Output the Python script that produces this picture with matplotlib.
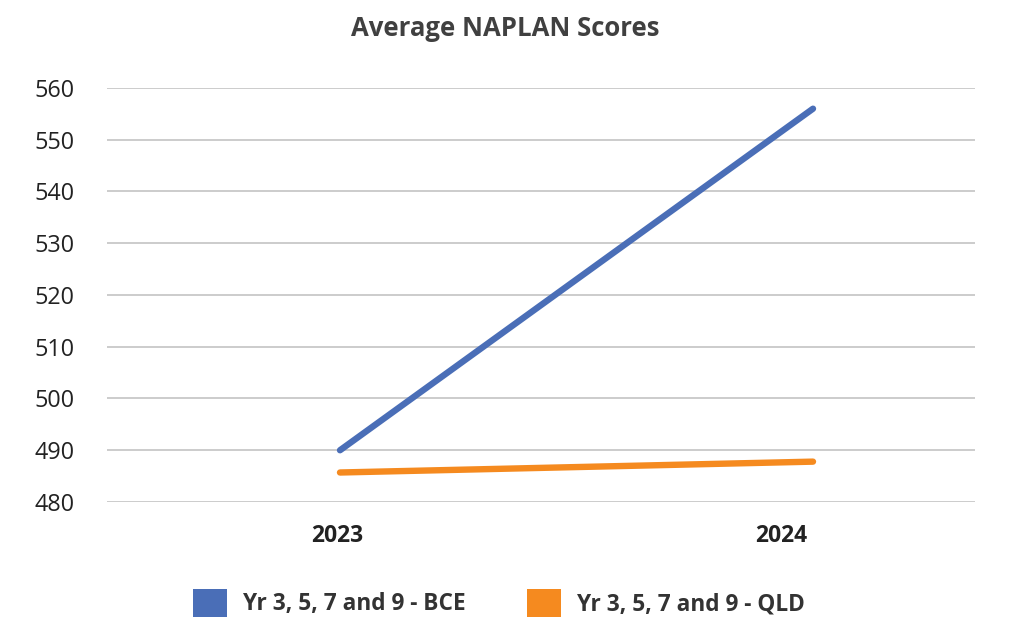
import matplotlib
matplotlib.use("Agg")
import matplotlib.pyplot as plt
from matplotlib.patches import Patch
import matplotlib.transforms as mtransforms

plt.rcParams['font.family'] = ['Open Sans', 'DejaVu Sans']

years = ["2023", "2024"]
bce = [490, 556]
qld = [485.7, 487.8]
series_names = ["Yr 3, 5, 7 and 9 - BCE", "Yr 3, 5, 7 and 9 - QLD"]
yticks = [480, 490, 500, 510, 520, 530, 540, 550, 560]

blue = "#4A6EB7"
orange = "#F58A1F"

fig = plt.figure(figsize=(10.14, 6.38), dpi=100)
ax = fig.add_axes([107/1014, 1-502/638, (975-107)/1014, (502-88)/638])

x = list(range(len(years)))
ax.plot(x, bce, color=blue, lw=4.6, solid_capstyle='round', zorder=3)
ax.plot(x, qld, color=orange, lw=4.6, solid_capstyle='round', zorder=3)

ax.set_xlim((107-340)/473, (975-340)/473)
ax.set_ylim(480, 560)
ax.set_yticks(yticks)
ax.set_yticklabels([str(v) for v in yticks], fontsize=16.8, color="#222222")
ax.set_xticks(x)
ax.set_xticklabels(years, fontsize=16.5, fontweight='bold', color="#222222")
ax.tick_params(axis='y', length=0, pad=23.5)
ax.tick_params(axis='x', length=0, pad=16)
# shift category labels to match reference placement
shifts = [-3, -32]
for lab, dx in zip(ax.get_xticklabels(), shifts):
    lab.set_transform(lab.get_transform() + mtransforms.ScaledTranslation(dx/100, 0, fig.dpi_scale_trans))

ax.grid(axis='y', color="#BFBFBF", lw=1.1)
ax.set_axisbelow(True)
for s in ax.spines.values():
    s.set_visible(False)

fig.text(505/1014, 1-29/638, "Average NAPLAN Scores", ha='center', va='center',
         fontsize=18.5, fontweight='bold', color="#404040")

handles = [Patch(facecolor=blue, edgecolor='none'), Patch(facecolor=orange, edgecolor='none')]
leg = fig.legend(handles, series_names, loc='center', bbox_to_anchor=(499/1014, 1-603/638),
                 ncol=2, frameon=False, handlelength=1.5, handleheight=1.5,
                 handletextpad=0.7, columnspacing=2.7, borderpad=0, borderaxespad=0,
                 prop={'size': 16.3, 'weight': 'bold'})
for t in leg.get_texts():
    t.set_color("#333333")

fig.savefig("out.png", dpi=100)
